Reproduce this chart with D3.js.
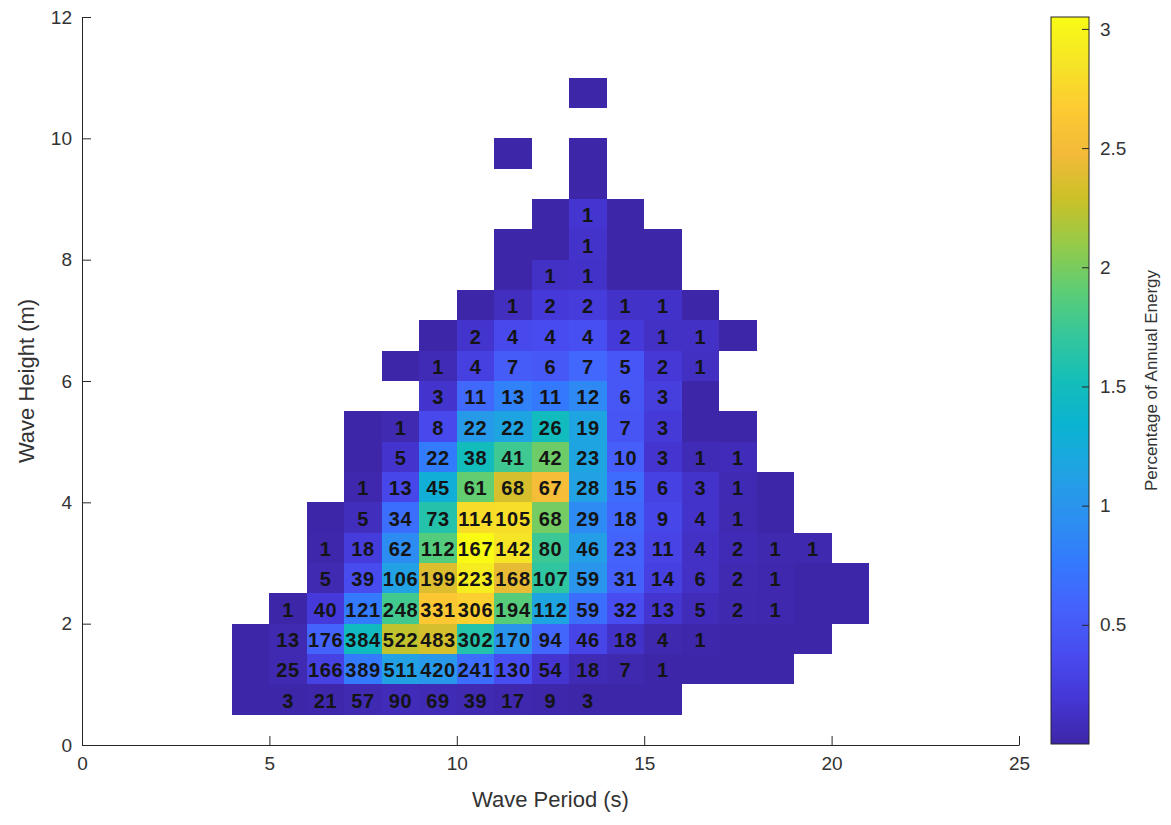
<!DOCTYPE html>
<html>
<head>
<meta charset="utf-8">
<script src="https://cdn.jsdelivr.net/npm/d3@7"></script>
<style>
  html, body { margin: 0; padding: 0; background: #ffffff; }
  svg { display: block; }
  .tick text { font-family: "Liberation Sans", Arial, Helvetica, sans-serif; fill: #333333; }
</style>
</head>
<body>
<svg id="chart" width="1171" height="825"></svg>
<script>
// Wave scatter: occurrence counts (labels) and share of annual wave energy (colour)
const _ = null;

// Lower edge of each period bin (s) and height bin (m)
const periodBins = [4, 5, 6, 7, 8, 9, 10, 11, 12, 13, 14, 15, 16, 17, 18, 19, 20];
const heightBins = [0.5, 1.0, 1.5, 2.0, 2.5, 3.0, 3.5, 4.0, 4.5, 5.0, 5.5, 6.0, 6.5,
                    7.0, 7.5, 8.0, 8.5, 9.0, 9.5, 10.0, 10.5];

// Percentage of annual energy per cell (rows follow heightBins, columns periodBins)
const energyPct = [
  [0, 0, 0.01, 0.04, 0.07, 0.06, 0.04, 0.02, 0.01, 0, 0, 0, _, _, _, _, _],
  [0, 0.04, 0.28, 0.76, 1.12, 1.03, 0.66, 0.39, 0.17, 0.06, 0.03, 0, 0, 0, 0, _, _],
  [0, 0.04, 0.58, 1.46, 2.25, 2.33, 1.61, 0.99, 0.60, 0.32, 0.13, 0.03, 0.01, 0, 0, 0, _],
  [_, 0, 0.22, 0.76, 1.77, 2.64, 2.70, 1.87, 1.17, 0.67, 0.39, 0.17, 0.07, 0.03, 0.02, 0, 0],
  [_, _, 0.04, 0.37, 1.13, 2.37, 2.93, 2.42, 1.68, 1.00, 0.56, 0.27, 0.12, 0.04, 0.02, 0, 0],
  [_, _, 0.01, 0.24, 0.92, 1.86, 3.05, 2.86, 1.75, 1.09, 0.58, 0.30, 0.12, 0.06, 0.03, 0.03, _],
  [_, _, 0, 0.09, 0.67, 1.62, 2.79, 2.81, 1.98, 0.91, 0.61, 0.33, 0.15, 0.04, 0, _, _],
  [_, _, _, 0.02, 0.33, 1.28, 1.92, 2.34, 2.51, 1.13, 0.65, 0.28, 0.15, 0.05, 0, _, _],
  [_, _, _, 0, 0.16, 0.78, 1.49, 1.76, 1.96, 1.16, 0.54, 0.17, 0.06, 0.07, _, _, _],
  [_, _, _, 0, 0.04, 0.35, 1.05, 1.16, 1.48, 1.17, 0.46, 0.21, 0, 0, _, _, _],
  [_, _, _, _, _, 0.16, 0.63, 0.82, 0.75, 0.89, 0.48, 0.25, 0, _, _, _, _],
  [_, _, _, _, 0, 0.06, 0.27, 0.52, 0.49, 0.61, 0.47, 0.20, 0.11, _, _, _, _],
  [_, _, _, _, _, 0, 0.16, 0.35, 0.38, 0.41, 0.22, 0.12, 0.12, 0, _, _, _],
  [_, _, _, _, _, _, 0, 0.10, 0.22, 0.24, 0.13, 0.14, 0, _, _, _, _],
  [_, _, _, _, _, _, _, 0, 0.12, 0.13, 0, 0, _, _, _, _, _],
  [_, _, _, _, _, _, _, 0, 0, 0.15, 0, 0, _, _, _, _, _],
  [_, _, _, _, _, _, _, _, 0, 0.17, 0, _, _, _, _, _, _],
  [_, _, _, _, _, _, _, _, _, 0, _, _, _, _, _, _, _],
  [_, _, _, _, _, _, _, 0, _, 0, _, _, _, _, _, _, _],
  [_, _, _, _, _, _, _, _, _, _, _, _, _, _, _, _, _],
  [_, _, _, _, _, _, _, _, _, 0, _, _, _, _, _, _, _]
];

// Number of occurrences written in each cell
const counts = [
  [_, 3, 21, 57, 90, 69, 39, 17, 9, 3, _, _, _, _, _, _, _],
  [_, 25, 166, 389, 511, 420, 241, 130, 54, 18, 7, 1, _, _, _, _, _],
  [_, 13, 176, 384, 522, 483, 302, 170, 94, 46, 18, 4, 1, _, _, _, _],
  [_, 1, 40, 121, 248, 331, 306, 194, 112, 59, 32, 13, 5, 2, 1, _, _],
  [_, _, 5, 39, 106, 199, 223, 168, 107, 59, 31, 14, 6, 2, 1, _, _],
  [_, _, 1, 18, 62, 112, 167, 142, 80, 46, 23, 11, 4, 2, 1, 1, _],
  [_, _, _, 5, 34, 73, 114, 105, 68, 29, 18, 9, 4, 1, _, _, _],
  [_, _, _, 1, 13, 45, 61, 68, 67, 28, 15, 6, 3, 1, _, _, _],
  [_, _, _, _, 5, 22, 38, 41, 42, 23, 10, 3, 1, 1, _, _, _],
  [_, _, _, _, 1, 8, 22, 22, 26, 19, 7, 3, _, _, _, _, _],
  [_, _, _, _, _, 3, 11, 13, 11, 12, 6, 3, _, _, _, _, _],
  [_, _, _, _, _, 1, 4, 7, 6, 7, 5, 2, 1, _, _, _, _],
  [_, _, _, _, _, _, 2, 4, 4, 4, 2, 1, 1, _, _, _, _],
  [_, _, _, _, _, _, _, 1, 2, 2, 1, 1, _, _, _, _, _],
  [_, _, _, _, _, _, _, _, 1, 1, _, _, _, _, _, _, _],
  [_, _, _, _, _, _, _, _, _, 1, _, _, _, _, _, _, _],
  [_, _, _, _, _, _, _, _, _, 1, _, _, _, _, _, _, _],
  [_, _, _, _, _, _, _, _, _, _, _, _, _, _, _, _, _],
  [_, _, _, _, _, _, _, _, _, _, _, _, _, _, _, _, _],
  [_, _, _, _, _, _, _, _, _, _, _, _, _, _, _, _, _],
  [_, _, _, _, _, _, _, _, _, _, _, _, _, _, _, _, _]
];

const periodBinWidth = 1;
const heightBinWidth = 0.5;
const xTicks = [0, 5, 10, 15, 20, 25];
const yTicks = [0, 2, 4, 6, 8, 10, 12];
const colorTicks = [0.5, 1, 1.5, 2, 2.5, 3];
const colorLimits = [0, 3.05];

// parula colour map anchors
const parulaStops = [
  [0.2422, 0.1504, 0.6603], [0.2704, 0.2138, 0.8346], [0.2813, 0.2985, 0.9397],
  [0.2710, 0.3860, 0.9898], [0.2006, 0.4803, 0.9906], [0.1716, 0.5655, 0.9393],
  [0.1288, 0.6408, 0.8910], [0.0433, 0.7039, 0.8242], [0.0770, 0.7468, 0.7224],
  [0.2061, 0.7808, 0.6065], [0.3671, 0.8021, 0.4563], [0.5886, 0.7913, 0.2833],
  [0.7945, 0.7554, 0.1570], [0.9523, 0.7284, 0.2237], [0.9938, 0.7974, 0.1974],
  [0.9601, 0.8963, 0.1507], [0.9769, 0.9839, 0.0805]
].map(c => d3.rgb(c[0] * 255, c[1] * 255, c[2] * 255).formatHex());

const parula = d3.scaleLinear()
  .domain(parulaStops.map((_, i) => i / (parulaStops.length - 1)))
  .range(parulaStops)
  .interpolate(d3.interpolateRgb)
  .clamp(true);

const colorNorm = d3.scaleLinear().domain(colorLimits).range([0, 1]).clamp(true);
const colorOf = v => parula(colorNorm(v));

const svg = d3.select("#chart");
const plot = { left: 82, right: 1019, top: 17, bottom: 745 };

const x = d3.scaleLinear().domain([0, 25]).range([plot.left, plot.right]);
const y = d3.scaleLinear().domain([0, 12]).range([plot.bottom, plot.top]);

// Flatten the grid into cells
const cells = [];
heightBins.forEach((h, r) => {
  periodBins.forEach((t, c) => {
    const e = energyPct[r][c];
    if (e !== null) cells.push({ t, h, e, n: counts[r][c] });
  });
});

// Heat-map cells
svg.append("g")
  .attr("shape-rendering", "crispEdges")
  .selectAll("rect")
  .data(cells)
  .join("rect")
  .attr("x", d => x(d.t))
  .attr("y", d => y(d.h + heightBinWidth))
  .attr("width", d => x(d.t + periodBinWidth) - x(d.t))
  .attr("height", d => y(d.h) - y(d.h + heightBinWidth))
  .attr("fill", d => colorOf(d.e));

// Occurrence counts
svg.append("g")
  .selectAll("text")
  .data(cells.filter(d => d.n !== null))
  .join("text")
  .attr("x", d => x(d.t + periodBinWidth / 2))
  .attr("y", d => y(d.h + heightBinWidth / 2) + 3)
  .attr("text-anchor", "middle")
  .attr("dominant-baseline", "middle")
  .attr("font-family", "'Liberation Sans', Arial, Helvetica, sans-serif")
  .attr("font-weight", "bold")
  .attr("font-size", 20)
  .attr("letter-spacing", "0.7px")
  .attr("fill", "#141414")
  .text(d => d.n);

// Axes
const axisColor = "#262626";
const xAxis = svg.append("g")
  .attr("transform", `translate(0,${plot.bottom})`)
  .call(d3.axisBottom(x).tickValues(xTicks).tickSizeInner(-9).tickSizeOuter(0).tickPadding(12));
const yAxis = svg.append("g")
  .attr("transform", `translate(${plot.left},0)`)
  .call(d3.axisLeft(y).tickValues(yTicks).tickSizeInner(-9).tickSizeOuter(0).tickPadding(10));

[xAxis, yAxis].forEach(g => {
  g.select(".domain").attr("stroke", axisColor).attr("stroke-width", 1);
  g.selectAll(".tick line").attr("stroke", axisColor).attr("stroke-width", 1);
  g.selectAll(".tick text").attr("font-size", 19);
});

svg.append("text")
  .attr("x", (plot.left + plot.right) / 2)
  .attr("y", 807)
  .attr("text-anchor", "middle")
  .attr("font-family", "'Liberation Sans', Arial, Helvetica, sans-serif")
  .attr("font-size", 22)
  .attr("fill", "#333333")
  .text("Wave Period (s)");

svg.append("text")
  .attr("transform", `translate(34,${(plot.top + plot.bottom) / 2}) rotate(-90)`)
  .attr("text-anchor", "middle")
  .attr("font-family", "'Liberation Sans', Arial, Helvetica, sans-serif")
  .attr("font-size", 22)
  .attr("fill", "#333333")
  .text("Wave Height (m)");

// Colour bar
const bar = { left: 1051, right: 1089, top: 17, bottom: 744 };
const cScale = d3.scaleLinear().domain(colorLimits).range([bar.bottom, bar.top]);

const grad = svg.append("defs").append("linearGradient")
  .attr("id", "parulaGrad")
  .attr("x1", 0).attr("y1", 1).attr("x2", 0).attr("y2", 0);
grad.selectAll("stop")
  .data(parulaStops)
  .join("stop")
  .attr("offset", (d, i) => i / (parulaStops.length - 1))
  .attr("stop-color", d => d);

svg.append("rect")
  .attr("x", bar.left)
  .attr("y", bar.top)
  .attr("width", bar.right - bar.left)
  .attr("height", bar.bottom - bar.top)
  .attr("fill", "url(#parulaGrad)")
  .attr("stroke", axisColor)
  .attr("stroke-width", 1);

const cAxis = svg.append("g")
  .attr("transform", `translate(${bar.right},0)`)
  .call(d3.axisRight(cScale).tickValues(colorTicks).tickFormat(d => String(d))
    .tickSizeInner(-7).tickSizeOuter(0).tickPadding(11));
cAxis.select(".domain").remove();
cAxis.selectAll(".tick line").attr("stroke", axisColor).attr("stroke-width", 1);
cAxis.selectAll(".tick text").attr("font-size", 19);

svg.append("text")
  .attr("transform", `translate(1157,${(bar.top + bar.bottom) / 2}) rotate(-90)`)
  .attr("text-anchor", "middle")
  .attr("font-family", "'Liberation Sans', Arial, Helvetica, sans-serif")
  .attr("font-size", 17)
  .attr("fill", "#333333")
  .text("Percentage of Annual Energy");
</script>
</body>
</html>
